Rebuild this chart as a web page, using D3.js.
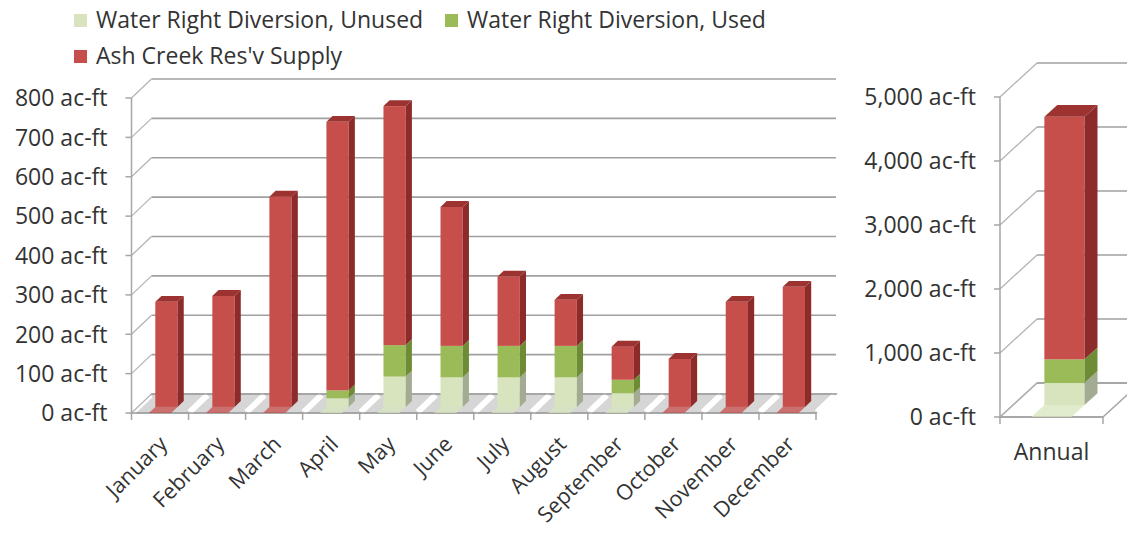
<!DOCTYPE html>
<html>
<head>
<meta charset="utf-8">
<script src="https://cdn.jsdelivr.net/npm/d3@7"></script>
<style>
body { margin: 0; background: #fff; }
text { font-family: "Open Sans", sans-serif; fill: #333; }
</style>
</head>
<body>
<svg width="1127" height="535"></svg>
<script>
// chart values
var months = ["January", "February", "March", "April", "May", "June", "July",
  "August", "September", "October", "November", "December"];
var unusedVals = [0, 0, 0, 22, 77, 75, 75, 75, 35, 0, 0, 0];
var usedVals = [0, 0, 0, 20, 80, 80, 80, 80, 34, 0, 0, 0];
var supplyVals = [267, 282, 534, 682, 607, 353, 176, 117, 84, 122, 267, 305];

var annualCats = ["Annual"];
var annualUnused = [345];
var annualUsed = [370];
var annualSupply = [3790];

var seriesNames = ["Water Right Diversion, Unused", "Water Right Diversion, Used", "Ash Creek Res'v Supply"];
var leftTicks = [0, 100, 200, 300, 400, 500, 600, 700, 800];
var rightTicks = [0, 1000, 2000, 3000, 4000, 5000];

var keys = ["unused", "used", "supply"];
var frontCol = { unused: "#d7e4bd", used: "#9bbb59", supply: "#c64e4b" };
var sideCol = { unused: "#a3ac92", used: "#6d8c35", supply: "#8c2b29" };
var topCol = { unused: "#c3d0aa", used: "#86a54a", supply: "#9c3330" };
var fontSize = "23px";
var monthFont = "21.5px";

var svg = d3.select("svg");

function makeRows(cats, a, b, c) {
  return cats.map(function(m, i) {
    return { cat: m, unused: a[i], used: b[i], supply: c[i] };
  });
}

function panel(o) {
  var g = svg.append("g");
  var x = d3.scaleBand().domain(o.cats).range(o.xr);
  var y = d3.scaleLinear().domain([0, o.ticks[o.ticks.length - 1]]).range(o.yr);
  var x0 = o.xr[0], x1 = o.xr[1];
  var p = function(xx, v, z) { return [xx + z * o.dx, y(v) - z * o.dy]; };
  var poly = function(pts) { return pts.map(function(q) { return q.join(","); }).join(" "); };

  // floor
  g.append("polygon")
    .attr("points", poly([p(x0, 0, 0), p(x1, 0, 0), p(x1, 0, 1), p(x0, 0, 1)]))
    .attr("fill", o.floorFill)
    .attr("stroke", "#a6a6a6")
    .attr("stroke-width", 1.5);

  var bounds = o.cats.map(function(c) { return x(c); }).concat([x1]);
  if (o.stripes) {
    g.selectAll(".stripe")
      .data(bounds)
      .enter()
      .append("line")
      .attr("x1", function(b) { return p(b, 0, 0.05)[0]; })
      .attr("y1", function(b) { return p(b, 0, 0.05)[1]; })
      .attr("x2", function(b) { return p(b, 0, 0.95)[0]; })
      .attr("y2", function(b) { return p(b, 0, 0.95)[1]; })
      .attr("stroke", "#fff")
      .attr("stroke-width", 6);
  }

  // back wall gridlines and side wall diagonals
  g.selectAll(".grid")
    .data(o.ticks)
    .enter()
    .append("line")
    .attr("x1", function(t) { return p(x0, t, 1)[0]; })
    .attr("y1", function(t) { return p(x0, t, 1)[1]; })
    .attr("x2", function(t) { return p(x1, t, 1)[0]; })
    .attr("y2", function(t) { return p(x1, t, 1)[1]; })
    .attr("stroke", "#a0a0a0")
    .attr("stroke-width", 1.6);

  g.selectAll(".diag")
    .data(o.ticks)
    .enter()
    .append("line")
    .attr("x1", function(t) { return p(x0, t, 0)[0]; })
    .attr("y1", function(t) { return p(x0, t, 0)[1]; })
    .attr("x2", function(t) { return p(x0, t, 1)[0]; })
    .attr("y2", function(t) { return p(x0, t, 1)[1]; })
    .attr("stroke", "#b4b4b4")
    .attr("stroke-width", 1.3);

  // front axis line, ticks and labels
  g.append("line")
    .attr("x1", x0).attr("x2", x0)
    .attr("y1", y(0)).attr("y2", y(o.ticks[o.ticks.length - 1]))
    .attr("stroke", "#a6a6a6").attr("stroke-width", 1.5);
  g.selectAll(".ytick")
    .data(o.ticks)
    .enter()
    .append("line")
    .attr("x1", x0 - 6).attr("x2", x0)
    .attr("y1", function(t) { return y(t); })
    .attr("y2", function(t) { return y(t); })
    .attr("stroke", "#a6a6a6").attr("stroke-width", 1.5);
  g.selectAll(".ylab")
    .data(o.ticks)
    .enter()
    .append("text")
    .attr("x", x0 - o.labelGap)
    .attr("y", function(t) { return y(t); })
    .attr("dy", "0.36em")
    .attr("text-anchor", "end")
    .attr("font-size", fontSize)
    .text(function(t) { return d3.format(",")(t) + " ac-ft"; });

  // category ticks on front floor edge
  g.append("line")
    .attr("x1", x0).attr("x2", x1)
    .attr("y1", y(0)).attr("y2", y(0))
    .attr("stroke", "#a0a0a0").attr("stroke-width", 1.5);
  g.selectAll(".xtick")
    .data(bounds)
    .enter()
    .append("line")
    .attr("x1", function(b) { return b; })
    .attr("x2", function(b) { return b; })
    .attr("y1", y(0)).attr("y2", y(0) + 7)
    .attr("stroke", "#a6a6a6").attr("stroke-width", 1.5);

  // bars
  var rows = makeRows(o.cats, o.a, o.b, o.c);
  var stacked = d3.stack().keys(keys)(rows);
  var bw = x.bandwidth() * 0.39;
  var z0 = o.z0, z1 = o.z1;

  rows.forEach(function(r, i) {
    var bx0 = x(r.cat) + (x.bandwidth() - bw) / 2, bx1 = bx0 + bw;
    var segs = stacked.map(function(layer) {
      return { key: layer.key, s0: layer[i][0], s1: layer[i][1] };
    }).filter(function(s) { return s.s1 - s.s0 > 0; });
    if (!segs.length) return;
    var bar = g.append("g");

    // colour the floor in front of the bar
    bar.append("polygon")
      .attr("points", poly([p(bx0, 0, 0), p(bx1, 0, 0), p(bx1, 0, z0), p(bx0, 0, z0)]))
      .attr("fill", frontCol[segs[0].key])
      .attr("opacity", 0.75);

    segs.forEach(function(s, j) {
      var f = p(bx0, s.s1, z0);
      bar.append("rect")
        .attr("x", f[0]).attr("y", f[1])
        .attr("width", bw)
        .attr("height", y(s.s0) - y(s.s1))
        .attr("fill", frontCol[s.key]);
      bar.append("polygon")
        .attr("points", poly([p(bx1, s.s0, z0), p(bx1, s.s1, z0), p(bx1, s.s1, z1), p(bx1, s.s0, z1)]))
        .attr("fill", sideCol[s.key]);
      if (j === segs.length - 1) {
        bar.append("polygon")
          .attr("points", poly([p(bx0, s.s1, z0), p(bx1, s.s1, z0), p(bx1, s.s1, z1), p(bx0, s.s1, z1)]))
          .attr("fill", topCol[s.key]);
      }
    });
  });

  // category labels
  g.selectAll(".xlab")
    .data(o.cats)
    .enter()
    .append("text")
    .attr("font-size", o.rotate ? monthFont : fontSize)
    .attr("text-anchor", o.rotate ? "end" : "middle")
    .attr("dy", o.rotate ? "0.36em" : "0")
    .attr("transform", function(c) {
      var cx = x(c) + x.bandwidth() / 2;
      return o.rotate ? "translate(" + (cx + 3) + "," + (y(0) + 27) + ") rotate(-45)"
                      : "translate(" + cx + "," + (y(0) + 43) + ")";
    })
    .text(function(c) { return c; });
}

panel({
  cats: months, a: unusedVals, b: usedVals, c: supplyVals,
  ticks: leftTicks, xr: [131.5, 816], yr: [413, 98],
  dx: 20, dy: 19, z0: 0.32, z1: 0.63,
  floorFill: "#d6d6d6", stripes: true, labelGap: 24, rotate: true
});

panel({
  cats: annualCats, a: annualUnused, b: annualUsed, c: annualSupply,
  ticks: rightTicks, xr: [1000, 1103], yr: [417, 97],
  dx: 37, dy: 34, z0: 0.35, z1: 0.7,
  floorFill: "#fff", stripes: false, labelGap: 24, rotate: false
});

// legend
var legendPos = [[74, 14], [445, 14], [74, 50]];
var legendKeys = ["unused", "used", "supply"];
var lg = svg.selectAll(".legend")
  .data(seriesNames)
  .enter()
  .append("g")
  .attr("transform", function(d, i) { return "translate(" + legendPos[i][0] + "," + legendPos[i][1] + ")"; });
lg.append("rect")
  .attr("width", 13).attr("height", 13)
  .attr("fill", function(d, i) { return frontCol[legendKeys[i]]; });
lg.append("text")
  .attr("x", 22).attr("y", 13.5)
  .attr("font-size", fontSize)
  .text(function(d) { return d; });
</script>
</body>
</html>
